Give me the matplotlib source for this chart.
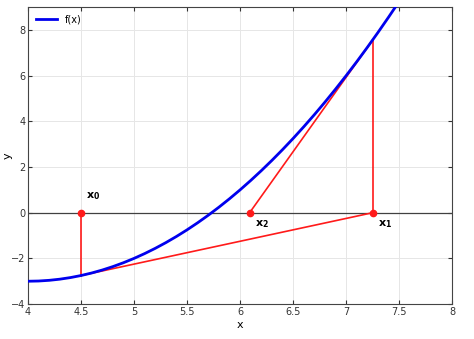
import numpy as np
import matplotlib
matplotlib.use("Agg")
import matplotlib.pyplot as plt

# curve f(x), values
fx_x = [4.0, 4.1, 4.2, 4.3, 4.4, 4.5, 4.6, 4.7, 4.8, 4.9,
        5.0, 5.1, 5.2, 5.3, 5.4, 5.5, 5.6, 5.7, 5.8, 5.9,
        6.0, 6.1, 6.2, 6.3, 6.4, 6.5, 6.6, 6.7, 6.8, 6.9,
        7.0, 7.1, 7.2, 7.3, 7.4, 7.5]
fx_y = [-3.00, -2.99, -2.96, -2.91, -2.84, -2.75, -2.64, -2.51, -2.36, -2.19,
        -2.00, -1.79, -1.56, -1.31, -1.04, -0.75, -0.44, -0.11, 0.24, 0.61,
        1.00, 1.41, 1.84, 2.29, 2.76, 3.25, 3.76, 4.29, 4.84, 5.41,
        6.00, 6.61, 7.24, 7.89, 8.56, 9.25]

# iterates
iter_x = [4.5, 7.25, 6.09]
iter_fx = [-2.75, 7.56]
iter_labels = ["0", "1", "2"]

fig = plt.figure(figsize=(4.74, 3.39), dpi=100)
ax = fig.add_axes([0.059, 0.103, 0.895, 0.876])

ax.axhline(0, color="#404040", lw=0.9, zorder=2)
ax.plot(fx_x, fx_y, color="#0000ee", lw=2, label="f(x)", zorder=4)

red = "#ff1a1a"
for i in range(len(iter_fx)):
    # vertical drop from axis to curve
    ax.plot([iter_x[i], iter_x[i]], [0, iter_fx[i]], color=red, lw=1.2, zorder=3)
    # tangent segment to next root estimate
    ax.plot([iter_x[i], iter_x[i + 1]], [iter_fx[i], 0], color=red, lw=1.2, zorder=3)

ax.plot(iter_x, [0] * len(iter_x), "o", color=red, ms=4.5, zorder=5)

offs = [(0.05, 0.45, "bottom"), (0.05, -0.25, "top"), (0.05, -0.25, "top")]
for xv, lab, (dx, dy, va) in zip(iter_x, iter_labels, offs):
    ax.text(xv + dx, dy, r"$\mathbf{x_{%s}}$" % lab, fontsize=8, va=va, ha="left")

ax.set_xlim(4, 8)
ax.set_ylim(-4, 9)
ax.set_xticks(np.arange(4, 8.01, 0.5))
ax.set_xticklabels(["4", "4.5", "5", "5.5", "6", "6.5", "7", "7.5", "8"])
ax.set_yticks([-4, -2, 0, 2, 4, 6, 8])
ax.tick_params(direction="in", labelsize=7, length=3, pad=2, colors="#333333",
               top=True, right=True, labeltop=False, labelright=False)
ax.grid(True, color="#e6e6e6", lw=0.7)
ax.set_axisbelow(True)
for s in ax.spines.values():
    s.set_color("#444444")
    s.set_linewidth(0.8)
ax.set_xlabel("x", fontsize=8, labelpad=2)
ax.set_ylabel("y", fontsize=8)
ax.yaxis.set_label_coords(-0.035, 0.5)

leg = ax.legend(loc="upper left", fontsize=7, frameon=False, handlelength=2.2,
                borderaxespad=0.4)

fig.savefig("out.png", dpi=100)
